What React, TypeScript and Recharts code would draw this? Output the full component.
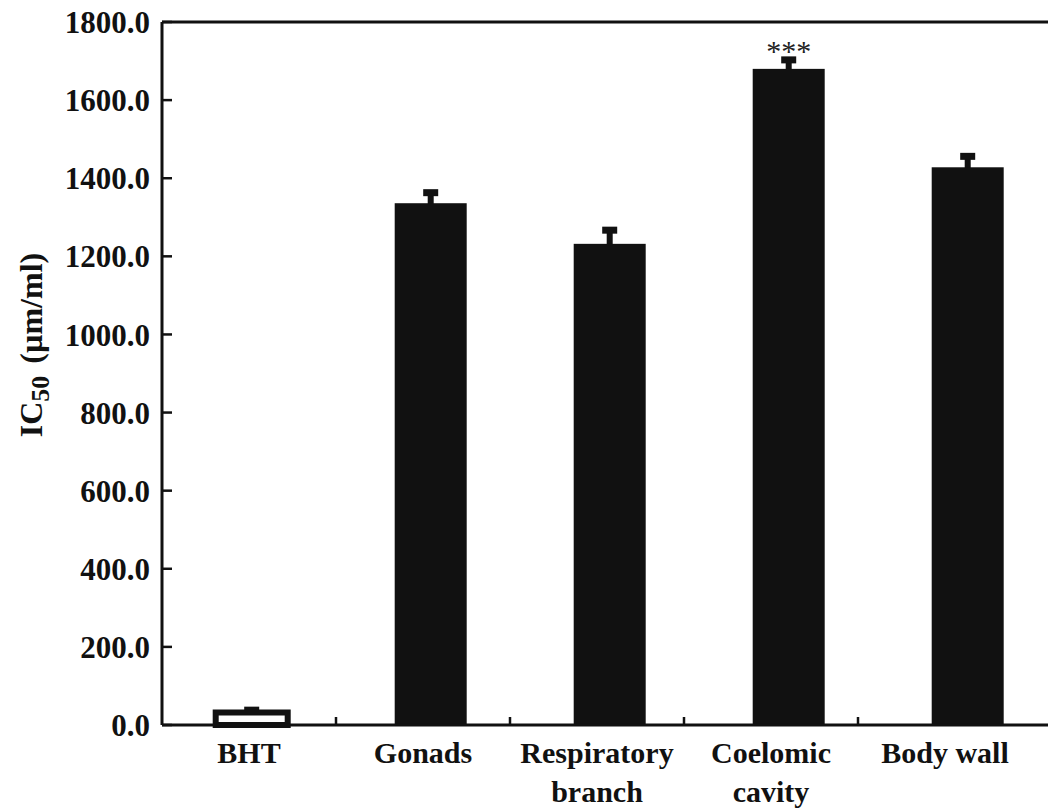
import { BarChart, Bar, XAxis, YAxis, Cell, ReferenceLine } from "recharts"

const categories = ["BHT", "Gonads", "Respiratory\nbranch", "Coelomic\ncavity", "Body wall"]
const ic50 = [32, 1336, 1232, 1680, 1428]
const errors = [6, 27, 35, 23, 28]
const significance = ["", "", "", "***", ""]
const yTicks = [0, 200, 400, 600, 800, 1000, 1200, 1400, 1600, 1800]

const data = categories.map((name, i) => ({
  name,
  value: ic50[i],
  err: errors[i],
  sig: significance[i],
}))

const FONT = "'Liberation Serif', 'Times New Roman', serif"
const INK = "#111111"

function BarWithError(props: any) {
  const { x, y, width, height, payload, fill, stroke, strokeWidth } = props
  const k = payload.value ? height / payload.value : 0
  const errPx = payload.err * k
  const cx = x + width / 2
  const top = y - errPx
  return (
    <g>
      <rect x={cx - 3} y={top} width={6} height={errPx + 2} fill={INK} />
      <rect x={cx - 7.5} y={top - 3.5} width={15} height={7} fill={INK} />
      <rect x={x} y={y} width={width} height={height} fill={fill} stroke={stroke} strokeWidth={strokeWidth} />
      {payload.sig ? (
        <text x={cx} y={top + 1} textAnchor="middle" fontFamily={FONT} fontSize={30} fill="#222">
          {payload.sig}
        </text>
      ) : null}
    </g>
  )
}

function YTick(props: any) {
  const { x, y, payload } = props
  return (
    <g>
      <text x={x} y={y} dy="0.36em" textAnchor="end" fontFamily={FONT} fontWeight="bold" fontSize={31} fill={INK}>
        {Number(payload.value).toFixed(1)}
      </text>
      <line x1={x + 12} x2={x + 22} y1={y} y2={y} stroke={INK} strokeWidth={2.5} />
    </g>
  )
}

function XTick(props: any) {
  const { x, y, payload, index } = props
  const lines = String(payload.value).split("\n")
  const edge = payload.coordinate + (payload.offset || 0)
  return (
    <g>
      <text textAnchor="middle" fontFamily={FONT} fontWeight="bold" fontSize={30} fill={INK}>
        {lines.map((l, i) => (
          <tspan key={i} x={x} y={y + 38 + i * 39}>
            {l}
          </tspan>
        ))}
      </text>
      {index < categories.length - 1 ? (
        <line x1={edge} x2={edge} y1={y} y2={y - 8} stroke={INK} strokeWidth={2.5} />
      ) : null}
    </g>
  )
}

export default function App() {
  return (
    <div style={{ position: "absolute", left: 0, top: 0, width: 1048, height: 810, overflow: "hidden", background: "#fff" }}>
      <BarChart width={1070} height={810} data={data} margin={{ top: 22, right: 13, bottom: 0, left: 0 }} barCategoryGap="30%">
        <XAxis xAxisId="bars" dataKey="name" hide height={0} />
        <XAxis
          xAxisId="labels"
          dataKey="name"
          height={85}
          padding={{ left: 0, right: 25 }}
          axisLine={{ stroke: INK, strokeWidth: 3 }}
          tickLine={false}
          tickSize={0}
          tickMargin={0}
          interval={0}
          tick={<XTick />}
        />
        <YAxis
          domain={[0, 1800]}
          ticks={yTicks}
          width={162}
          axisLine={{ stroke: INK, strokeWidth: 3 }}
          tickLine={false}
          tickSize={0}
          tickMargin={12}
          interval={0}
          tick={<YTick />}
          label={{
            content: () => (
              <text
                x={42}
                y={345}
                transform="rotate(-90, 42, 345)"
                textAnchor="middle"
                fontFamily={FONT}
                fontWeight="bold"
                fontSize={32}
                fill={INK}
              >
                IC
                <tspan fontSize={26} dy={7}>
                  50
                </tspan>
                <tspan dy={-7} dx={12}>
                  (µm/ml)
                </tspan>
              </text>
            ),
          }}
        />
        <ReferenceLine xAxisId="bars" y={1800} stroke={INK} strokeWidth={3} />
        <Bar xAxisId="bars" dataKey="value" shape={<BarWithError />} isAnimationActive={false}>
          {data.map((d, i) => (
            <Cell
              key={d.name}
              fill={i === 0 ? "#ffffff" : INK}
              stroke={INK}
              strokeWidth={i === 0 ? 6 : 0}
            />
          ))}
        </Bar>
      </BarChart>
    </div>
  )
}
